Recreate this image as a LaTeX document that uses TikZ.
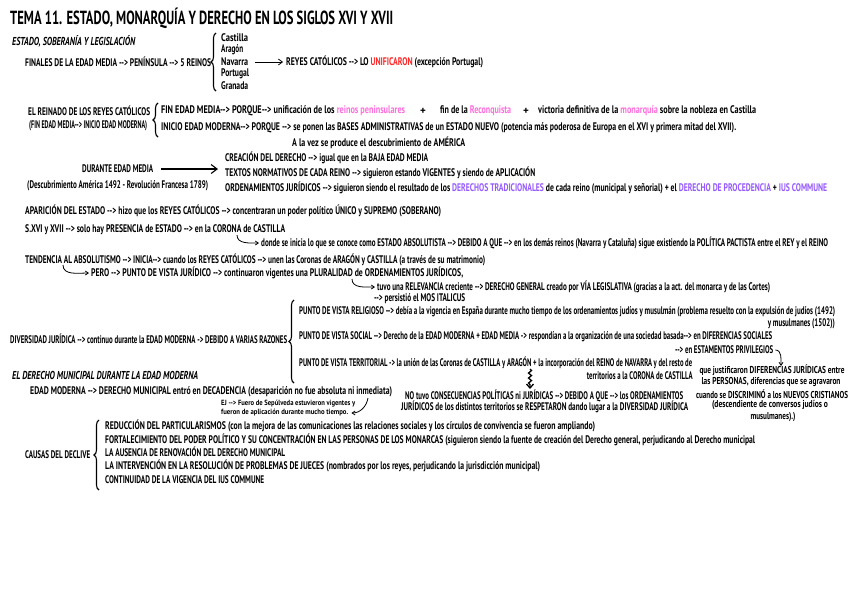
\documentclass[tikz,border=0pt]{standalone}
\usepackage{fontspec}
\setmainfont{PT Sans}
\usepackage{graphicx}
\usetikzlibrary{arrows.meta,decorations.pathreplacing,decorations.pathmorphing}
\definecolor{crd}{RGB}{255,40,40}
\definecolor{cpk}{RGB}{255,110,220}
\definecolor{cpu}{RGB}{150,90,255}
\newcommand{\fw}[2]{\resizebox{#1pt}{\height}{#2}}
\newcommand{\tpk}[1]{\textcolor{cpk}{#1}}
\newcommand{\tpu}[1]{\textcolor{cpu}{#1}}
\newcommand{\trd}[1]{\textcolor{crd}{#1}}
\begin{document}
\begin{tikzpicture}[x=1pt,y=-1pt,
  txt/.style={anchor=west,inner sep=0pt,font=\bfseries\fontsize{11}{12}\selectfont},
  txe/.style={txt,anchor=east},
  txc/.style={txt,anchor=center,font=\bfseries\fontsize{10}{11}\selectfont},
  sml/.style={txt,font=\bfseries\fontsize{7.5}{8}\selectfont},
  ttl/.style={txt,font=\bfseries\fontsize{19}{20}\selectfont},
  hdr/.style={txt,font=\bfseries\fontsize{11.5}{12}\selectfont},
  brc/.style={decorate,decoration={brace,amplitude=5pt},line width=1.1pt},
  arr/.style={-{Straight Barb[length=4pt,width=6pt]},line width=0.8pt},
  big/.style={-{Straight Barb[length=6pt,width=9pt]},line width=1.1pt},
  hk/.style={-{Straight Barb[length=3pt,width=4pt]},line width=0.8pt}]
\fill[white] (0,0) rectangle (848,600);
\useasboundingbox (0,0) rectangle (848,600);

\node[ttl] (title) at (10,18) {\fw{383}{TEMA 11. ESTADO, MONARQUÍA Y DERECHO EN LOS SIGLOS XVI Y XVII}};
\node[hdr] (sec1) at (12,41) {\fw{123}{\itshape ESTADO, SOBERANÍA Y LEGISLACIÓN}};
\node[txt] (finales) at (25,62) {\fw{186}{FINALES DE LA EDAD MEDIA -{}-> PENÍNSULA -{}-> 5 REINOS}};
\draw[brc] (216,91) -- (216,33);
\node[txt] (castilla) at (221,38) {\fw{27}{Castilla}};
\node[txt] (aragon) at (221,50) {\fw{22}{Aragón}};
\node[txt] (navarra) at (221,62) {\fw{27}{Navarra}};
\node[txt] (portugal) at (221,74) {\fw{28}{Portugal}};
\node[txt] (granada) at (221,86) {\fw{27}{Granada}};
\node[txt] (reyes) at (286,62) {\fw{197}{REYES CATÓLICOS -{}-> LO \trd{UNIFICARON} (excepción Portugal)}};
\draw[arr] ([xshift=7pt]navarra.east) -- ([xshift=-3pt]reyes.west);

\node[txt] (reinado) at (28,111) {\fw{122}{EL REINADO DE LOS REYES CATÓLICOS}};
\node[txt] (finini) at (29,126) {\fw{118}{(FIN EDAD MEDIA-{}-> INICIO EDAD MODERNA)}};
\draw[brc] (158,137) -- (158,103);
\node[txt] (fin1) at (161,111) {\fw{244}{FIN EDAD MEDIA-{}-> PORQUE-{}-> unificación de los \tpk{reinos peninsulares}}};
\node[txt] (plus1) at (420,111) {+};
\node[txt] (fin2) at (440,111) {\fw{71}{fin de la \tpk{Reconquista}}};
\node[txt] (plus2) at (523,111) {+};
\node[txt] (fin3) at (538,111) {\fw{218}{victoria definitiva de la \tpk{monarquía} sobre la nobleza en Castilla}};
\node[txt] (inicio) at (161,128) {\fw{575}{INICIO EDAD MODERNA-{}-> PORQUE -{}-> se ponen las BASES ADMINISTRATIVAS de un ESTADO NUEVO (potencia más poderosa de Europa en el XVI y primera mitad del XVII).}};
\node[txt] (alavez) at (292,143) {\fw{173}{A la vez se produce el descubrimiento de AMÉRICA}};

\node[txt] (durante) at (82,169) {\fw{71}{DURANTE EDAD MEDIA}};
\coordinate (bigend) at (218,169);
\draw[big] ([xshift=8pt]durante.east) -- (bigend);
\node[txt] (descub) at (27,186) {\fw{181}{(Descubrimiento América 1492 - Revolución Francesa 1789)}};
\node[txt] (creacion) at (225,158) {\fw{203}{CREACIÓN DEL DERECHO -{}-> igual que en la BAJA EDAD MEDIA}};
\node[txt] (textos) at (225,173) {\fw{310}{TEXTOS NORMATIVOS DE CADA REINO -{}-> siguieron estando VIGENTES y siendo de APLICACIÓN}};
\node[txt] (ordenam) at (225,188) {\fw{602}{ORDENAMIENTOS JURÍDICOS -{}-> siguieron siendo el resultado de los \tpu{DERECHOS TRADICIONALES} de cada reino (municipal y señorial) + el \tpu{DERECHO DE PROCEDENCIA} + \tpu{IUS COMMUNE}}};

\node[txt] (aparicion) at (25,211) {\fw{416}{APARICIÓN DEL ESTADO -{}-> hizo que los REYES CATÓLICOS -{}-> concentraran un poder político ÚNICO y SUPREMO (SOBERANO)}};
\node[txt] (sxvi) at (25,230) {\fw{260}{S.XVI y XVII -{}-> solo hay PRESENCIA de ESTADO -{}-> en la CORONA de CASTILLA}};
\node[txt] (donde) at (261,243) {\fw{567}{donde se inicia lo que se conoce como ESTADO ABSOLUTISTA -{}-> DEBIDO A QUE -{}-> en los demás reinos (Navarra y Cataluña) sigue existiendo la POLÍTICA PACTISTA entre el REY y el REINO}};
\coordinate (h1) at (237,235);
\draw[hk] (h1) to[out=-90,in=180] ([xshift=-2pt]donde.west);

\node[txt] (tendencia) at (25,260) {\fw{460}{TENDENCIA AL ABSOLUTISMO -{}-> INICIA-{}-> cuando los REYES CATÓLICOS -{}-> unen las Coronas de ARAGÓN y CASTILLA (a través de su matrimonio)}};
\node[txt] (pero) at (91,273) {\fw{372}{PERO -{}-> PUNTO DE VISTA JURÍDICO -{}-> continuaron vigentes una PLURALIDAD de ORDENAMIENTOS JURÍDICOS,}};
\coordinate (h2) at (63,265);
\draw[hk] (h2) to[out=-90,in=180] ([xshift=-2pt]pero.west);
\node[txt] (tuvo) at (377,287) {\fw{393}{tuvo una RELEVANCIA creciente -{}-> DERECHO GENERAL creado por VÍA LEGISLATIVA (gracias a la act. del monarca y de las Cortes)}};
\coordinate (h3) at (352,279);
\draw[hk] (h3) to[out=-90,in=180] ([xshift=-2pt]tuvo.west);
\node[txt] (persist) at (374,299) {\fw{91}{-{}-> persistió el MOS ITALICUS}};

\node[txt] (diversidad) at (10,339) {\fw{277}{DIVERSIDAD JURÍDICA -{}-> continuo durante la EDAD MODERNA -> DEBIDO A VARIAS RAZONES}};
\draw[brc] (294,383) -- (294,300);
\node[txt] (religioso) at (299,312) {\fw{536}{PUNTO DE VISTA RELIGIOSO -{}-> debía a la vigencia en España durante mucho tiempo de los ordenamientos judíos y musulmán (problema resuelto con la expulsión de judíos (1492)}};
\node[txe] (ymusul) at (835,324) {\fw{67}{y musulmanes (1502))}};
\node[txt] (social) at (299,337) {\fw{473}{PUNTO DE VISTA SOCIAL -{}-> Derecho de la EDAD MODERNA + EDAD MEDIA -> respondían a la organización de una sociedad basada-{}-> en DIFERENCIAS SOCIALES}};
\node[txt] (estam) at (675,350) {\fw{98}{-{}-> en ESTAMENTOS PRIVILEGIOS}};
\coordinate (h4) at (781,366);
\draw[hk] ([xshift=2pt]estam.east) to[out=0,in=90] (h4);
\node[txt] (territorial) at (299,363) {\fw{393}{PUNTO DE VISTA TERRITORIAL -> la unión de las Coronas de CASTILLA y ARAGÓN + la incorporación del REINO de NAVARRA y del resto de}};
\node[txe] (territorios) at (693,376) {\fw{106}{territorios a la CORONA de CASTILLA}};

\node[txt] (notuvo) at (405,396) {\fw{278}{NO tuvo CONSECUENCIAS POLÍTICAS ni JURÍDICAS -{}-> DEBIDO A QUE -{}-> los ORDENAMIENTOS}};
\node[txt] (juridicos) at (401,407) {\fw{287}{JURÍDICOS de los distintos territorios se RESPETARON dando lugar a la DIVERSIDAD JURÍDICA}};
\coordinate (dwn) at (530,369);
\draw[-{Straight Barb[length=4pt,width=7pt]},line width=1.3pt,decorate,decoration={snake,amplitude=1.5pt,segment length=5pt,post length=4pt}] (dwn) -- (530,389);

\node[txc] (r1) at (772,370) {\fw{145}{que justificaron DIFERENCIAS JURÍDICAS entre}};
\node[txc] (r2) at (771,382) {\fw{139}{las PERSONAS, diferencias que se agravaron}};
\node[txc] (r3) at (772,394) {\fw{152}{cuando se DISCRIMINÓ a los NUEVOS CRISTIANOS}};
\node[txc] (r4) at (770,405) {\fw{116}{(descendiente de conversos judíos o}};
\node[txc] (r5) at (773,417) {\fw{45}{musulmanes).)}};

\node[hdr] (munic) at (12,375) {\fw{186}{\itshape EL DERECHO MUNICIPAL DURANTE LA EDAD MODERNA}};
\node[txt] (edadmod) at (30,392) {\fw{362}{EDAD MODERNA -{}-> DERECHO MUNICIPAL entró en DECADENCIA (desaparición no fue absoluta ni inmediata)}};
\node[sml] (ej1) at (221,404) {\fw{134}{EJ -{}-> Fuero de Sepúlveda estuvieron vigentes y}};
\node[sml] (ej2) at (221,413) {\fw{127}{fueron de aplicación durante mucho tiempo.}};
\coordinate (ejs) at (368,398);
\draw[hk] (ejs) to[out=-100,in=0] ([xshift=3pt]ej2.east);

\node[txt] (causas) at (25,455) {\fw{65}{CAUSAS DEL DECLIVE}};
\draw[brc] (99,490) -- (99,420);
\node[txt] (c1) at (105,426) {\fw{490}{REDUCCIÓN DEL PARTICULARISMOS (con la mejora de las comunicaciones las relaciones sociales y los círculos de convivencia se fueron ampliando)}};
\node[txt] (c2) at (105,440) {\fw{650}{FORTALECIMIENTO DEL PODER POLÍTICO Y SU CONCENTRACIÓN EN LAS PERSONAS DE LOS MONARCAS (siguieron siendo la fuente de creación del Derecho general, perjudicando al Derecho municipal}};
\node[txt] (c3) at (105,452) {\fw{180}{LA AUSENCIA DE RENOVACIÓN DEL DERECHO MUNICIPAL}};
\node[txt] (c4) at (105,466) {\fw{435}{LA INTERVENCIÓN EN LA RESOLUCIÓN DE PROBLEMAS DE JUECES (nombrados por los reyes, perjudicando la jurisdicción municipal)}};
\node[txt] (c5) at (105,480) {\fw{159}{CONTINUIDAD DE LA VIGENCIA DEL IUS COMMUNE}};
\end{tikzpicture}
\end{document}
